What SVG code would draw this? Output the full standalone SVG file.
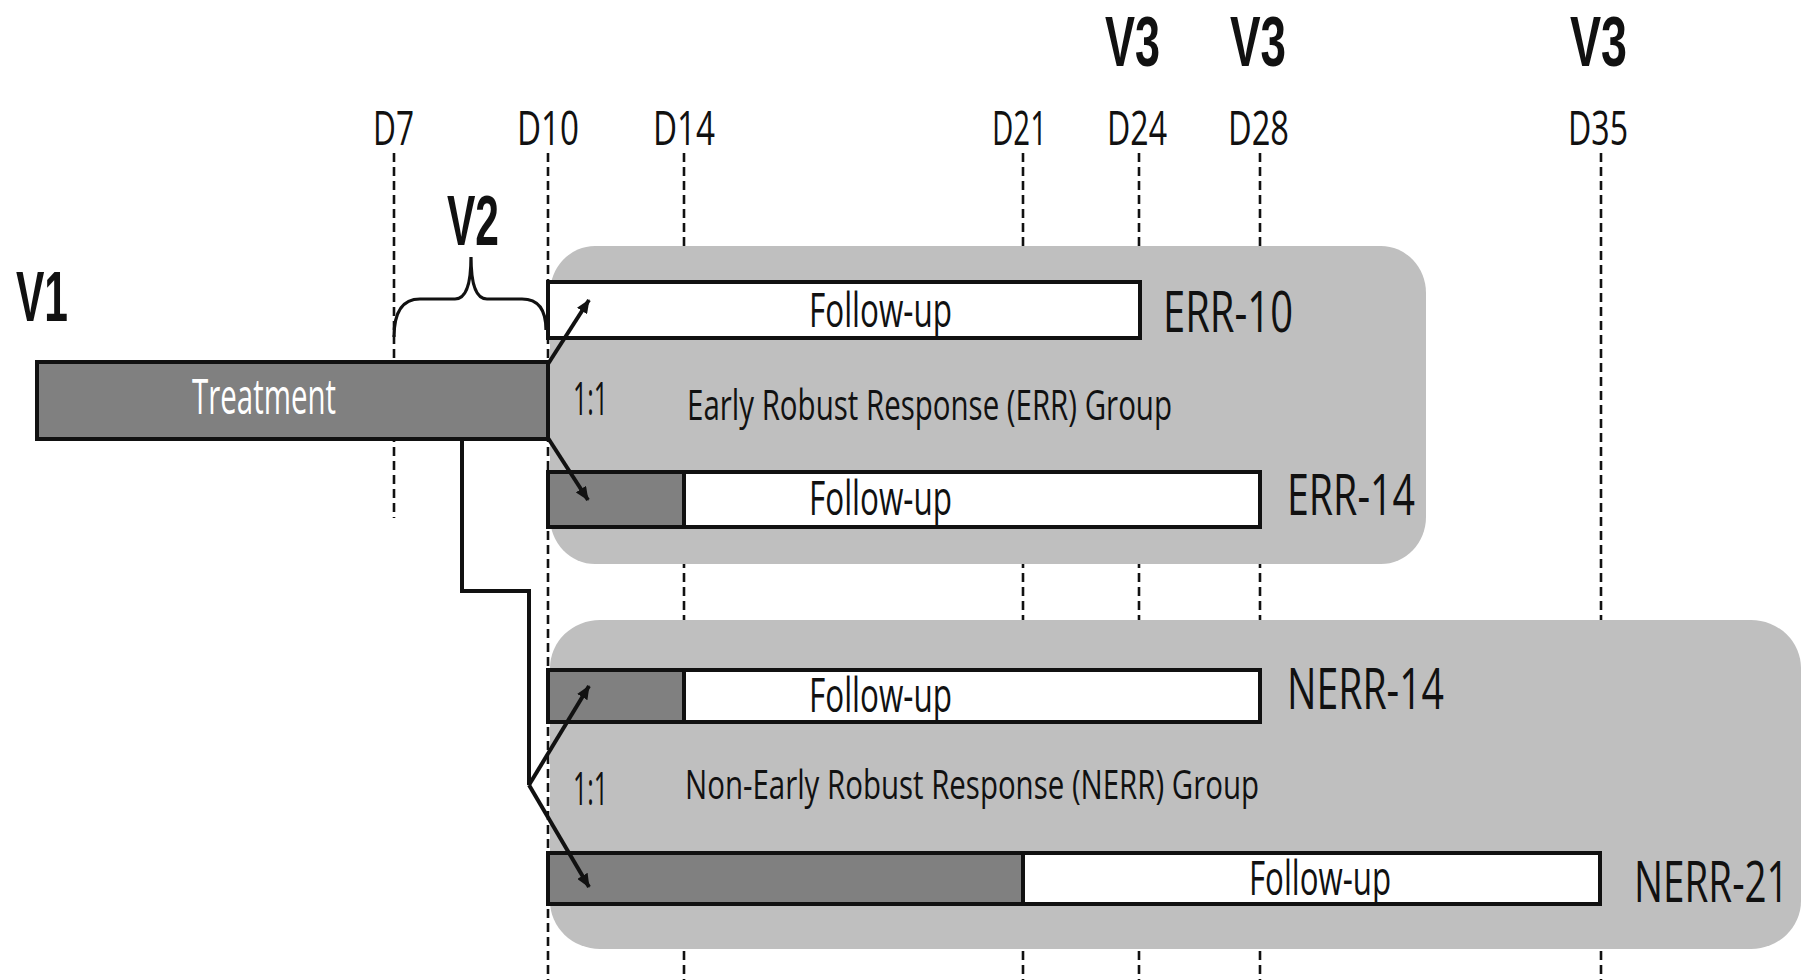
<svg xmlns="http://www.w3.org/2000/svg" width="1808" height="980" viewBox="0 0 1808 980">
<defs>
<style>
.dash{stroke:#111;stroke-width:2.6;stroke-dasharray:9 5;fill:none}
.grp{fill:#bfbfbf}
.bar{fill:#fff;stroke:#111;stroke-width:4}
.dark{fill:#808080}
.ln{stroke:#111;stroke-width:4;fill:none}
.t{font-family:"Open Sans","Liberation Sans",sans-serif;fill:#111}
.v{font-family:"Liberation Sans","Open Sans",sans-serif;font-weight:bold;font-size:70px}
.d{font-size:47px}
.fu{font-size:47px}
.lab{font-size:57px}
.r{font-size:46px}
.g{font-size:42px}
</style>
<marker id="ah" viewBox="0 0 14 12" refX="13" refY="6" markerWidth="14" markerHeight="12" markerUnits="userSpaceOnUse" orient="auto">
<path d="M0,0 L14,6 L0,12 Z" fill="#111"/>
</marker>
</defs>
<rect width="1808" height="980" fill="#fff"/>

<g id="timeline">
<line class="dash" x1="394" y1="153" x2="394" y2="518"/>
<line class="dash" x1="548" y1="153" x2="548" y2="980"/>
<line class="dash" x1="684" y1="153" x2="684" y2="980"/>
<line class="dash" x1="1023" y1="153" x2="1023" y2="980"/>
<line class="dash" x1="1139" y1="153" x2="1139" y2="980"/>
<line class="dash" x1="1260" y1="153" x2="1260" y2="980"/>
<line class="dash" x1="1601" y1="153" x2="1601" y2="980"/>
<text class="t d" x="373" y="145" textLength="41" lengthAdjust="spacingAndGlyphs">D7</text>
<text class="t d" x="517" y="145" textLength="62" lengthAdjust="spacingAndGlyphs">D10</text>
<text class="t d" x="653" y="145" textLength="62" lengthAdjust="spacingAndGlyphs">D14</text>
<text class="t d" x="992" y="145" textLength="55" lengthAdjust="spacingAndGlyphs">D21</text>
<text class="t d" x="1107" y="145" textLength="60" lengthAdjust="spacingAndGlyphs">D24</text>
<text class="t d" x="1228" y="145" textLength="61" lengthAdjust="spacingAndGlyphs">D28</text>
<text class="t d" x="1568" y="145" textLength="60" lengthAdjust="spacingAndGlyphs">D35</text>
<text class="t v" x="1105" y="66" textLength="55" lengthAdjust="spacingAndGlyphs">V3</text>
<text class="t v" x="1230" y="66" textLength="56" lengthAdjust="spacingAndGlyphs">V3</text>
<text class="t v" x="1570" y="66" textLength="57" lengthAdjust="spacingAndGlyphs">V3</text>
</g>

<g id="err-group">
<rect class="grp" x="550" y="246" width="876" height="318" rx="45" ry="47"/>
<text class="t r" x="573" y="415" textLength="35" lengthAdjust="spacingAndGlyphs">1:1</text>
<text class="t g" x="687" y="420" textLength="485" lengthAdjust="spacingAndGlyphs">Early Robust Response (ERR) Group</text>
</g>

<g id="nerr-group">
<rect class="grp" x="550" y="620" width="1251" height="329" rx="50" ry="48"/>
<text class="t r" x="573" y="805" textLength="35" lengthAdjust="spacingAndGlyphs">1:1</text>
<text class="t g" x="685" y="799" textLength="574" lengthAdjust="spacingAndGlyphs" style="font-size:40px">Non-Early Robust Response (NERR) Group</text>
</g>

<g id="v1">
<text class="t v" x="16" y="321" textLength="52" lengthAdjust="spacingAndGlyphs">V1</text>
</g>

<g id="treatment">
<rect x="37" y="362" width="511" height="77" fill="#808080" stroke="#111" stroke-width="4"/>
<text class="t" x="192" y="414" textLength="144" lengthAdjust="spacingAndGlyphs" style="font-size:49px;fill:#fff">Treatment</text>
</g>

<g id="v2">
<path class="ln" style="stroke-width:3.2" d="M394,337 Q394,299 420,299 L455,299 Q471,299 471,257 Q471,299 487,299 L522,299 Q546,299 546,330"/>
<text class="t v" x="447" y="245" textLength="52" lengthAdjust="spacingAndGlyphs">V2</text>
</g>

<g id="err-10">
<rect class="bar" x="548" y="282" width="592" height="56"/>
<text class="t fu" x="809" y="327" textLength="143" lengthAdjust="spacingAndGlyphs">Follow-up</text>
<text class="t lab" x="1163" y="332" textLength="130" lengthAdjust="spacingAndGlyphs">ERR-10</text>
</g>

<g id="err-14">
<rect class="dark" x="548" y="472" width="136" height="55"/>
<rect class="bar" x="548" y="472" width="712" height="55" style="fill:none"/>
<rect x="684" y="472" width="576" height="55" fill="#fff" stroke="#111" stroke-width="4"/>
<text class="t fu" x="809" y="515" textLength="143" lengthAdjust="spacingAndGlyphs">Follow-up</text>
<text class="t lab" x="1287" y="515" textLength="128" lengthAdjust="spacingAndGlyphs">ERR-14</text>
</g>

<g id="nerr-14">
<rect class="dark" x="548" y="670" width="136" height="52"/>
<rect class="bar" x="548" y="670" width="712" height="52" style="fill:none"/>
<rect x="684" y="670" width="576" height="52" fill="#fff" stroke="#111" stroke-width="4"/>
<text class="t fu" x="809" y="712" textLength="143" lengthAdjust="spacingAndGlyphs">Follow-up</text>
<text class="t lab" x="1287" y="709" textLength="157" lengthAdjust="spacingAndGlyphs">NERR-14</text>
</g>

<g id="nerr-21">
<rect class="dark" x="548" y="853" width="475" height="51"/>
<rect class="bar" x="548" y="853" width="1052" height="51" style="fill:none"/>
<rect x="1023" y="853" width="577" height="51" fill="#fff" stroke="#111" stroke-width="4"/>
<text class="t fu" x="1249" y="895" textLength="142" lengthAdjust="spacingAndGlyphs">Follow-up</text>
<text class="t lab" transform="translate(1634,902) scale(0.7,1)" x="0" y="0" textLength="221" lengthAdjust="spacingAndGlyphs">NERR-21</text>
</g>

<g id="connectors">
<line class="ln" x1="548" y1="364" x2="589" y2="300" marker-end="url(#ah)"/>
<line class="ln" x1="548" y1="438" x2="588" y2="500" marker-end="url(#ah)"/>
<path class="ln" d="M462,440 V591 H529 V785" stroke-linejoin="miter"/>
<line class="ln" x1="529" y1="785" x2="589" y2="686" marker-end="url(#ah)"/>
<line class="ln" x1="529" y1="785" x2="589" y2="887" marker-end="url(#ah)"/>
</g>
</svg>
